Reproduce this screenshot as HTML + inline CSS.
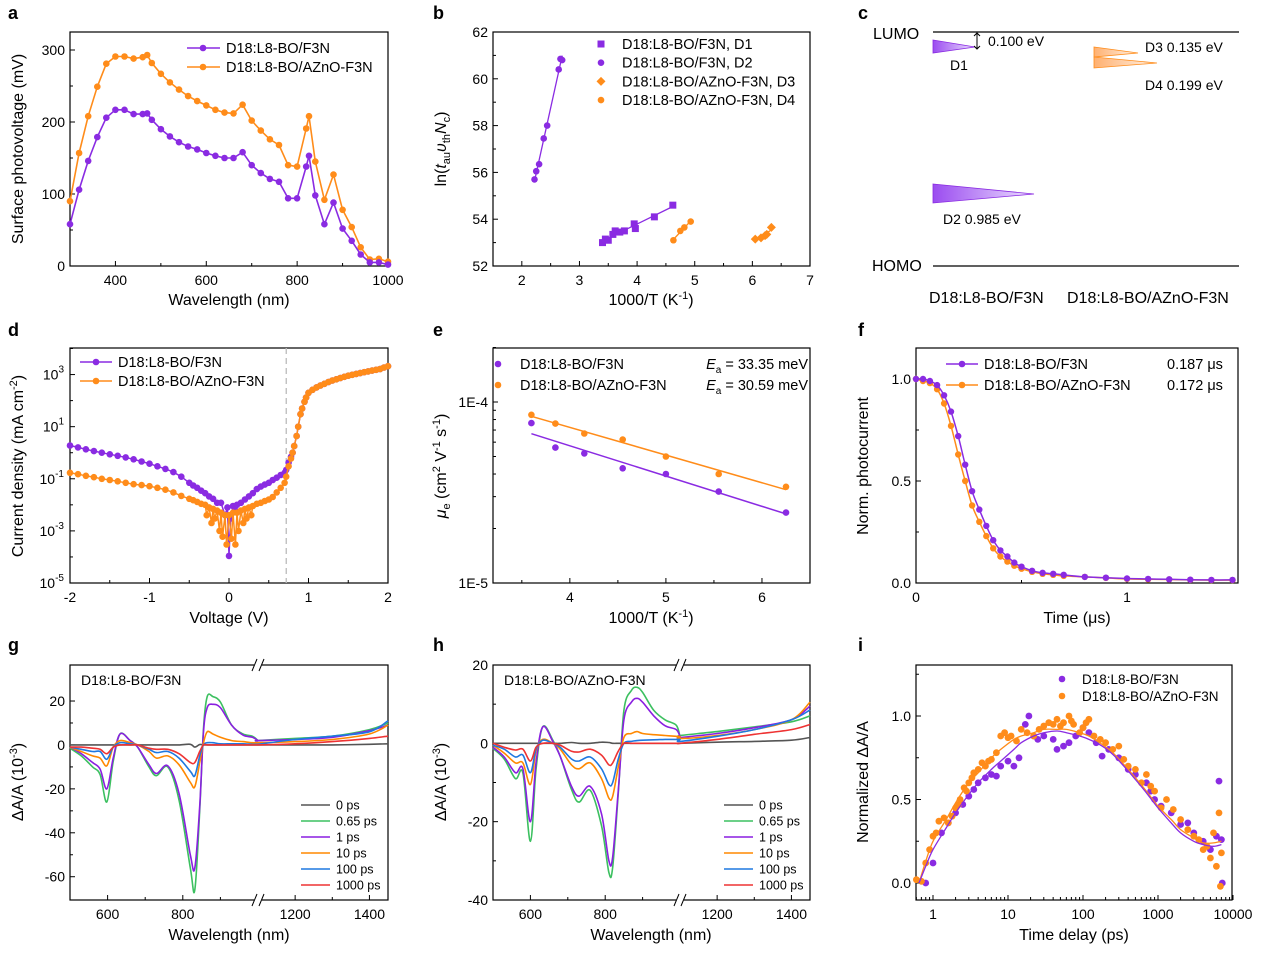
<!DOCTYPE html>
<html><head><meta charset="utf-8">
<style>
html,body{margin:0;padding:0;background:#fff;}
svg{display:block;font-family:"Liberation Sans",Arial,sans-serif;}
</style></head>
<body>
<svg id="fig" xmlns="http://www.w3.org/2000/svg" width="1268" height="953" viewBox="0 0 1268 953">
<defs>
<linearGradient id="gp" x1="0" x2="1" y1="0" y2="0"><stop offset="0" stop-color="#9b4cf0"/><stop offset="1" stop-color="#ece0ff"/></linearGradient>
<linearGradient id="go" x1="0" x2="1" y1="0" y2="0"><stop offset="0" stop-color="#ffb070"/><stop offset="1" stop-color="#fff3e8"/></linearGradient>
</defs>
<g font-size="18" font-weight="bold" fill="#000">
<text x="8" y="19">a</text>
<text x="433" y="19">b</text>
<text x="858" y="19">c</text>
<text x="8" y="336">d</text>
<text x="433" y="336">e</text>
<text x="858" y="336">f</text>
<text x="8" y="651">g</text>
<text x="433" y="651">h</text>
<text x="858" y="651">i</text>
</g>
<g font-size="16" fill="#000" text-anchor="middle">
<text x="229" y="305">Wavelength (nm)</text>
<text transform="translate(23,149) rotate(-90)">Surface photovoltage (mV)</text>
<text x="651" y="305">1000/T (K<tspan font-size="11" dy="-6">-1</tspan><tspan dy="6">)</tspan></text>
<text transform="translate(446,149) rotate(-90)">ln(<tspan font-style="italic">t</tspan><tspan font-size="11" dy="4">au</tspan><tspan dy="-4" font-style="italic">υ</tspan><tspan font-size="11" dy="4">th</tspan><tspan dy="-4" font-style="italic">N</tspan><tspan font-size="11" dy="4">c</tspan><tspan dy="-4">)</tspan></text>
<text x="229" y="623">Voltage (V)</text>
<text transform="translate(23,466) rotate(-90)">Current density (mA cm<tspan font-size="11" dy="-6">-2</tspan><tspan dy="6">)</tspan></text>
<text x="651" y="623">1000/T (K<tspan font-size="11" dy="-6">-1</tspan><tspan dy="6">)</tspan></text>
<text transform="translate(446,466) rotate(-90)"><tspan font-style="italic">μ</tspan><tspan font-size="11" dy="4">e</tspan><tspan dy="-4"> (cm</tspan><tspan font-size="11" dy="-6">2</tspan><tspan dy="6"> V</tspan><tspan font-size="11" dy="-6">-1</tspan><tspan dy="6"> s</tspan><tspan font-size="11" dy="-6">-1</tspan><tspan dy="6">)</tspan></text>
<text x="1077" y="623">Time (μs)</text>
<text transform="translate(868,466) rotate(-90)">Norm. photocurrent</text>
<text x="229" y="940">Wavelength (nm)</text>
<text transform="translate(23,782) rotate(-90)">ΔA/A (10<tspan font-size="11" dy="-6">-3</tspan><tspan dy="6">)</tspan></text>
<text x="651" y="940">Wavelength (nm)</text>
<text transform="translate(446,782) rotate(-90)">ΔA/A (10<tspan font-size="11" dy="-6">-3</tspan><tspan dy="6">)</tspan></text>
<text x="1074" y="940">Time delay (ps)</text>
<text transform="translate(868,782) rotate(-90)">Normalized ΔA/A</text>
</g>
<g font-size="14" fill="#000">
<text x="873" y="39" font-size="16">LUMO</text>
<line x1="933" y1="32" x2="1239" y2="32" stroke="#000" stroke-width="1.3"/>
<text x="872" y="271" font-size="16">HOMO</text>
<line x1="933" y1="266" x2="1239" y2="266" stroke="#000" stroke-width="1.3"/>
<path d="M933,40 L975,47 L933,53 Z" fill="url(#gp)" stroke="#8a2be2" stroke-width="0.8"/>
<path d="M977,33 L977,49 M974,36 L977,33 L980,36 M974,46 L977,49 L980,46" stroke="#000" fill="none" stroke-width="1"/>
<text x="988" y="46">0.100 eV</text>
<text x="950" y="70">D1</text>
<path d="M1094,47 L1138,53 L1094,57 Z" fill="url(#go)" stroke="#ff8c1a" stroke-width="0.8"/>
<path d="M1094,57 L1157,63 L1094,68 Z" fill="url(#go)" stroke="#ff8c1a" stroke-width="0.8"/>
<text x="1145" y="52">D3 0.135 eV</text>
<text x="1145" y="90">D4 0.199 eV</text>
<path d="M933,184 L1034,194 L933,203 Z" fill="url(#gp)" stroke="#8a2be2" stroke-width="0.8"/>
<text x="943" y="224">D2 0.985 eV</text>
<text x="929" y="303" font-size="16">D18:L8-BO/F3N</text>
<text x="1067" y="303" font-size="16">D18:L8-BO/AZnO-F3N</text>
</g>
</svg>
<script>
// ---------- DATA ----------
const aWl = [300,320,340,360,380,400,420,440,460,470,480,500,520,540,560,580,600,620,640,660,680,700,720,740,760,780,800,820,826,840,860,880,900,920,940,960,980,1000];
const aF3N = [58,106,146,179,206,217,217,211,211,212,203,190,180,172,166,162,157,153,150,150,158,140,129,121,117,94,94,138,153,98,58,88,52,35,16,5,5,2];
const aAZnO = [90,157,208,249,281,291,291,288,290,293,282,267,255,245,236,229,223,217,213,212,224,202,188,176,168,140,138,191,208,145,92,127,78,54,26,9,10,6];
const aXTicks = [400,600,800,1000];
const aYTicks = [0,100,200,300];
const bD1x = [3.4,3.45,3.5,3.58,3.62,3.7,3.78,3.95,3.97,4.3,4.62];
const bD1y = [53.0,53.15,53.1,53.35,53.5,53.45,53.5,53.8,53.6,54.1,54.6];
const bD2x = [2.22,2.25,2.3,2.38,2.44,2.64,2.67,2.7];
const bD2y = [55.7,56.05,56.35,57.45,58.0,60.4,60.85,60.8];
const bD3x = [6.05,6.15,6.22,6.25,6.33];
const bD3y = [53.15,53.2,53.3,53.35,53.65];
const bD4x = [4.63,4.75,4.82,4.93];
const bD4y = [53.1,53.5,53.65,53.9];
const bXTicks = [2,3,4,5,6,7];
const bYTicks = [52,54,56,58,60,62];
const dVp = [-2,-1.9,-1.8,-1.7,-1.6,-1.5,-1.4,-1.3,-1.2,-1.1,-1,-0.9,-0.8,-0.7,-0.6,-0.5,-0.45,-0.4,-0.35,-0.3,-0.25,-0.2,-0.15,-0.1,-0.05,-0.02,0,0.02,0.05,0.08,0.1,0.15,0.2,0.25,0.3,0.35,0.4,0.45,0.5,0.55,0.6,0.65,0.7,0.72,0.75,0.78,0.8,0.82,0.85,0.87,0.9,0.92,0.95,0.97,1.0,1.05,1.1,1.15,1.2,1.25,1.3,1.35,1.4,1.45,1.5,1.55,1.6,1.65,1.7,1.75,1.8,1.85,1.9,1.95,2];
const dJp = [1.9,1.6,1.35,1.15,1.0,0.87,0.76,0.66,0.56,0.46,0.38,0.3,0.24,0.18,0.12,0.07,0.055,0.045,0.035,0.028,0.021,0.017,0.012,0.012,0.004,0.008,1.1e-4,0.003,0.009,0.006,0.01,0.012,0.016,0.021,0.028,0.04,0.05,0.06,0.07,0.09,0.11,0.14,0.17,0.22,0.42,0.7,1,1.8,4.4,10,30,50,90,130,200,260,320,380,440,520,590,660,740,820,900,980,1060,1140,1230,1320,1420,1520,1640,1860,2100];
const dVo = [-2,-1.9,-1.8,-1.7,-1.6,-1.5,-1.4,-1.3,-1.2,-1.1,-1,-0.9,-0.8,-0.7,-0.6,-0.5,-0.45,-0.4,-0.35,-0.3,-0.28,-0.25,-0.22,-0.2,-0.18,-0.15,-0.12,-0.1,-0.08,-0.05,-0.03,0,0.03,0.05,0.08,0.1,0.12,0.15,0.18,0.2,0.22,0.25,0.28,0.3,0.35,0.4,0.45,0.5,0.55,0.6,0.65,0.7,0.72,0.75,0.78,0.8,0.82,0.85,0.87,0.9,0.92,0.95,0.97,1.0,1.05,1.1,1.15,1.2,1.25,1.3,1.35,1.4,1.45,1.5,1.55,1.6,1.65,1.7,1.75,1.8,1.85,1.9,1.95,2];
const dJo = [0.17,0.15,0.13,0.115,0.1,0.09,0.08,0.07,0.062,0.057,0.052,0.045,0.038,0.03,0.022,0.017,0.015,0.013,0.011,0.01,0.004,0.008,0.002,0.007,0.003,0.006,0.001,0.005,6e-4,0.004,3e-4,0.004,5e-4,0.005,3e-4,0.005,0.001,0.006,0.002,0.007,0.003,0.008,0.004,0.009,0.011,0.012,0.014,0.016,0.02,0.03,0.045,0.07,0.12,0.3,0.6,1,1.8,4.4,10,30,50,90,130,200,260,320,380,440,520,590,660,740,820,900,980,1060,1140,1230,1320,1420,1520,1640,1860,2100];
const dXTicks = [-2,-1,0,1,2];
const dYExp = [3,1,-1,-3,-5];
const eX = [3.6,3.85,4.15,4.55,5.0,5.55,6.25];
const eF3N = [7.65e-5,5.6e-5,5.2e-5,4.3e-5,4.0e-5,3.2e-5,2.45e-5];
const eAZnO = [8.5e-5,7.6e-5,6.7e-5,6.2e-5,5.0e-5,4.0e-5,3.4e-5];
const eXTicks = [4,5,6];
const fT = [0,0.033,0.066,0.1,0.133,0.166,0.2,0.233,0.266,0.3,0.333,0.366,0.4,0.433,0.466,0.5,0.55,0.6,0.65,0.7,0.8,0.9,1.0,1.1,1.2,1.3,1.4,1.5];
const fF3N = [1.0,1.0,0.99,0.97,0.92,0.84,0.72,0.58,0.45,0.36,0.28,0.21,0.16,0.13,0.1,0.08,0.06,0.05,0.045,0.04,0.03,0.026,0.022,0.02,0.018,0.016,0.015,0.015];
const fAZnO = [1.0,0.99,0.98,0.95,0.88,0.77,0.63,0.5,0.38,0.3,0.23,0.17,0.13,0.105,0.085,0.07,0.055,0.045,0.04,0.035,0.03,0.025,0.02,0.018,0.017,0.015,0.014,0.014];
const fXTicks = [0,1];
const fYTicks = [0,0.5,1.0];
const gWl = [500,530,560,580,598,615,633,660,680,710,730,760,790,820,832,845,855,865,880,900,930,960,985,1000,1100,1200,1300,1400,1450];
const g0 = [0,0,0,0,0,0,0,0,0,0,0,0,0,0.3,-1,0.2,0,0,0,0,0,0,0,0,0,0,0,0.3,0.5];
const g065 = [-1.5,-5,-10,-13.5,-26,-7.5,5,2,-1,-10,-14,-10,-25,-56,-66,-30,7.5,22,22,19.5,9,5,4,2,2,3,4,7,10];
const g1 = [-1,-4,-8,-11,-20,-6,5,2,-1,-9,-13,-9.5,-22,-50,-56,-28,6,17,18.5,17,9,4.5,3.5,2,2,2.5,3.5,6.5,9];
const g10 = [-1,-3,-5,-6,-9.5,-1,2,1,0,-3,-6,-5,-9,-17,-19,-8,1,6,5,3.5,2,1.5,1,1,1,1.5,2.5,5,9];
const g100 = [-1,-2,-3,-3,-6.5,-1,1,0.5,0,-2,-3.5,-3,-6,-12,-14,-5,0,1,1,0.5,0.5,0.5,0.3,0.3,0.3,2.5,4,6,11];
const g1000 = [-1,-1,-1.5,-2,-4,-1,0,0,0,-1.5,-2,-2,-4,-8,-8,-3,0,0,0,0,0,0,0,0,0,0.5,1.5,3,4];
const gXTicks = [600,800,1200,1400];
const gYTicks = [20,0,-20,-40,-60];
const hWl = [500,530,560,580,600,615,633,660,680,710,730,760,790,810,820,835,850,870,885,900,930,960,990,1000,1100,1200,1300,1400,1450];
const h0 = [0,0,0,0,0,0,0,0,0,0.2,0,0,0.3,0.2,0,0,0,0,0,0,0,0,0,0,0,0.3,0.5,0.8,1.5];
const h065 = [-1.3,-4,-9,-7.6,-25,-6.7,4.2,0.8,-3.4,-11.8,-15,-12,-21,-33,-31.6,-12.7,8.4,13.5,14.3,13,8.4,6,4.6,1.7,2,3,4.2,5.5,7];
const h1 = [-1,-3.5,-7.5,-6.5,-20,-5,4.2,0.5,-3.4,-11,-13.5,-11,-18,-30,-29,-12,6,10.5,11.5,10.5,7,4.5,3.5,1.7,1.5,2.5,4,6,9.5];
const h10 = [-0.5,-2.5,-5,-5,-10.5,-2,1,0,-1.5,-5.5,-6.5,-5,-9,-14,-13.5,-6,1.5,2.5,3,2.5,2.2,2,1.8,1.7,1.2,2,3.5,6,10.5];
const h100 = [-0.5,-1.5,-3.5,-3,-7.5,-1.5,0.8,0,-1,-4,-4.5,-3.5,-6.5,-10.5,-10,-4,0,0.5,0.7,0.8,0.9,1,1,1,0.5,1.8,3.5,6,8.5];
const h1000 = [0,-1,-1.7,-1.5,-4.5,-1,0,0,-0.5,-2,-2.2,-1.5,-3,-5.5,-5,-2,0,0,0,0,0,0,0,0,0,1,2.3,3.5,4.8];
const hXTicks = [600,800,1200,1400];
const hYTicks = [20,0,-20,-40];
const taLabels = ['0 ps','0.65 ps','1 ps','10 ps','100 ps','1000 ps'];
const iTo = [0.6,0.7,0.8,0.9,1.0,1.1,1.2,1.4,1.6,1.8,2.0,2.2,2.3,2.6,2.8,3,3.3,3.5,4,4.5,5,5.5,6,7,8,9,10,11,13,15,18,22,26,30,35,40,45,50,55,65,70,75,90,100,110,120,140,170,200,250,300,350,400,500,600,700,800,900,1100,1300,1600,2000,2500,3000,3500,4000,4500,5000,5500,6000,6500,6800,7000];
const iVo = [0.02,0.01,0.12,0.2,0.28,0.3,0.37,0.39,0.36,0.4,0.45,0.47,0.5,0.57,0.55,0.6,0.63,0.66,0.68,0.72,0.7,0.73,0.74,0.78,0.88,0.9,0.87,0.88,0.85,0.92,0.9,0.88,0.92,0.94,0.96,0.95,0.98,0.94,0.96,1.0,0.97,0.95,0.9,0.93,0.96,0.98,0.88,0.86,0.84,0.8,0.82,0.74,0.7,0.68,0.6,0.65,0.58,0.55,0.45,0.5,0.44,0.38,0.32,0.28,0.26,0.2,0.22,0.15,0.3,0.1,0.42,-0.02,0.18];
const iTp = [0.8,1.0,1.3,1.6,2,2.5,3,3.5,4,5,6,7,8,10,12,14,17,19,22,25,30,40,45,55,65,80,100,120,150,180,220,300,400,500,700,800,900,1100,1500,2000,2500,3000,4000,5000,6000,6500,7000,7200];
const iVp = [0.0,0.12,0.3,0.36,0.42,0.47,0.52,0.56,0.6,0.63,0.65,0.64,0.7,0.73,0.7,0.75,0.95,1.0,0.88,0.86,0.88,0.86,0.8,0.82,0.84,0.88,0.93,0.9,0.84,0.76,0.8,0.75,0.68,0.65,0.6,0.55,0.5,0.46,0.42,0.35,0.36,0.3,0.25,0.2,0.28,0.61,0.26,0.0];
const iFitT = [0.65,0.8,1,1.5,2,3,4,6,8,12,15,22,30,45,60,90,120,180,250,350,500,700,1000,1500,2000,3000,4000,5500,7000];
const iFitO = [0,0.13,0.25,0.38,0.48,0.6,0.66,0.75,0.8,0.86,0.88,0.9,0.92,0.92,0.92,0.9,0.88,0.83,0.78,0.71,0.63,0.55,0.46,0.38,0.32,0.27,0.24,0.24,0.25];
const iFitP = [0,0.1,0.2,0.33,0.42,0.53,0.6,0.68,0.73,0.8,0.84,0.88,0.9,0.91,0.9,0.88,0.86,0.82,0.77,0.7,0.62,0.54,0.45,0.36,0.3,0.25,0.23,0.22,0.23];
const iXTicks = [1,10,100,1000,10000];
const iYTicks = [0,0.5,1.0];

// ---------- HELPERS ----------
const NS='http://www.w3.org/2000/svg';
const svg=document.getElementById('fig');
const PUR='#8a2be2', ORA='#ff8c1a';
const TA_COL=['#555555','#3cc060','#8a1fe0','#ff8800','#1f78e0','#ee3333'];
function mk(tag,attrs,name,parent){
  const e=document.createElementNS(NS,tag);
  for(const k in attrs) e.setAttribute(k,attrs[k]);
  
  
  (parent||svg).appendChild(e);
  return e;
}
function txt(x,y,s,name,o){o=o||{};const t=mk('text',Object.assign({x:x,y:y,'font-size':14,fill:'#000'},o),name);t.textContent=s;return t;}
function lin(d0,d1,p0,p1){return v=>p0+(v-d0)/(d1-d0)*(p1-p0);}
function lg(d0,d1,p0,p1){return v=>p0+(Math.log10(v)-Math.log10(d0))/(Math.log10(d1)-Math.log10(d0))*(p1-p0);}
function frame(b,name){mk('rect',{x:b.l,y:b.t,width:b.r-b.l,height:b.b-b.t,fill:'none',stroke:'#000','stroke-width':1.2},name);}
function xt(b,v,sx,label,name,minor){const x=sx(v);mk('line',{x1:x,y1:b.b,x2:x,y2:b.b-(minor?3:5),stroke:'#000','stroke-width':1},name+'-tick');if(label!==null&&label!==undefined)txt(x,b.b+19,label,name+'-label',{'text-anchor':'middle'});}
function yt(b,v,sy,label,name,minor){const y=sy(v);mk('line',{x1:b.l,y1:y,x2:b.l+(minor?3:5),y2:y,stroke:'#000','stroke-width':1},name+'-tick');if(label!==null&&label!==undefined)txt(b.l-5,y+5,label,name+'-label',{'text-anchor':'end'});}
function path(xs,ys,sx,sy,col,w,name,extra,smooth){
  const P=xs.map((x,i)=>[sx(x),sy(ys[i])]);let d='M'+P[0][0].toFixed(1)+','+P[0][1].toFixed(1);
  for(let i=1;i<P.length;i++){
    if(smooth){const p0=P[Math.max(0,i-2)],p1=P[i-1],p2=P[i],p3=P[Math.min(P.length-1,i+1)];
      const c1=[p1[0]+(p2[0]-p0[0])/6,p1[1]+(p2[1]-p0[1])/6],c2=[p2[0]-(p3[0]-p1[0])/6,p2[1]-(p3[1]-p1[1])/6];
      d+='C'+c1[0].toFixed(1)+','+c1[1].toFixed(1)+' '+c2[0].toFixed(1)+','+c2[1].toFixed(1)+' '+p2[0].toFixed(1)+','+p2[1].toFixed(1);}
    else d+='L'+P[i][0].toFixed(1)+','+P[i][1].toFixed(1);}
  return mk('path',Object.assign({d:d,fill:'none',stroke:col,'stroke-width':w,'stroke-linejoin':'round'},extra||{}),name);}
function dots(xs,ys,sx,sy,col,r,name){const g=mk('g',{},name);for(let i=0;i<xs.length;i++){mk('circle',{cx:sx(xs[i]).toFixed(1),cy:sy(ys[i]).toFixed(1),r:r,fill:col},name+'-point',g);}return g;}
function marker(x,y,col,shape,name){
  if(shape==='sq') return mk('rect',{x:x-3.5,y:y-3.5,width:7,height:7,fill:col},name);
  if(shape==='di') return mk('path',{d:`M${x},${y-4.5}L${x+4.5},${y}L${x},${y+4.5}L${x-4.5},${y}Z`,fill:col},name);
  return mk('circle',{cx:x,cy:y,r:3.3,fill:col},name);
}

// ---------- PANEL A ----------
(function(){
  const b={l:70,r:388,t:32,b:266};
  const sx=lin(300,1000,b.l,b.r), sy=lin(0,325,b.b,b.t);
  frame(b,'a-plot-frame');
  aXTicks.forEach(v=>xt(b,v,sx,String(v),'a-x'));
  [300,500,700,900].forEach(v=>xt(b,v,sx,null,'a-x-minor',true));
  aYTicks.forEach(v=>yt(b,v,sy,String(v),'a-y'));
  [50,150,250].forEach(v=>yt(b,v,sy,null,'a-y-minor',true));
  path(aWl,aAZnO,sx,sy,ORA,1.6,'a-line-azno');
  dots(aWl,aAZnO,sx,sy,ORA,3.3,'a-markers-azno');
  path(aWl,aF3N,sx,sy,PUR,1.6,'a-line-f3n');
  dots(aWl,aF3N,sx,sy,PUR,3.3,'a-markers-f3n');
  mk('line',{x1:187,y1:48,x2:220,y2:48,stroke:PUR,'stroke-width':1.6},'a-legend-line-f3n');marker(203,48,PUR,'c','a-legend-marker-f3n');
  txt(226,53,'D18:L8-BO/F3N','a-legend-f3n',{'font-size':14.5});
  mk('line',{x1:187,y1:67,x2:220,y2:67,stroke:ORA,'stroke-width':1.6},'a-legend-line-azno');marker(203,67,ORA,'c','a-legend-marker-azno');
  txt(226,72,'D18:L8-BO/AZnO-F3N','a-legend-azno',{'font-size':14.5});
})();

// ---------- PANEL B ----------
(function(){
  const b={l:493,r:810,t:32,b:266};
  const sx=lin(1.5,7,b.l,b.r), sy=lin(52,62,b.b,b.t);
  frame(b,'b-plot-frame');
  bXTicks.forEach(v=>xt(b,v,sx,String(v),'b-x'));
  [2.5,3.5,4.5,5.5,6.5].forEach(v=>xt(b,v,sx,null,'b-x-minor',true));
  bYTicks.forEach(v=>yt(b,v,sy,String(v),'b-y'));
  [53,55,57,59,61].forEach(v=>yt(b,v,sy,null,'b-y-minor',true));
  function fit(xs,ys,col,name){const n=xs.length;let mx=0,my=0;xs.forEach((x,i)=>{mx+=x;my+=ys[i];});mx/=n;my/=n;let num=0,den=0;xs.forEach((x,i)=>{num+=(x-mx)*(ys[i]-my);den+=(x-mx)*(x-mx);});const k=num/den;const x0=Math.min(...xs),x1=Math.max(...xs);path([x0,x1],[my+k*(x0-mx),my+k*(x1-mx)],sx,sy,col,1.3,name);}
  fit(bD1x,bD1y,PUR,'b-fit-d1');fit(bD2x,bD2y,PUR,'b-fit-d2');fit(bD3x,bD3y,ORA,'b-fit-d3');fit(bD4x,bD4y,ORA,'b-fit-d4');
  bD1x.forEach((x,i)=>marker(sx(x),sy(bD1y[i]),PUR,'sq','b-point-d1'));
  bD2x.forEach((x,i)=>marker(sx(x),sy(bD2y[i]),PUR,'c','b-point-d2'));
  bD3x.forEach((x,i)=>marker(sx(x),sy(bD3y[i]),ORA,'di','b-point-d3'));
  bD4x.forEach((x,i)=>marker(sx(x),sy(bD4y[i]),ORA,'c','b-point-d4'));
  const L=[['D18:L8-BO/F3N, D1',PUR,'sq'],['D18:L8-BO/F3N, D2',PUR,'c'],['D18:L8-BO/AZnO-F3N, D3',ORA,'di'],['D18:L8-BO/AZnO-F3N, D4',ORA,'c']];
  L.forEach((e,i)=>{marker(601,44+i*18.7,e[1],e[2],'b-legend-marker');txt(622,49+i*18.7,e[0],'b-legend-entry',{'font-size':14.5});});
})();

// ---------- PANEL D ----------
(function(){
  const b={l:70,r:388,t:348,b:583};
  const sx=lin(-2,2,b.l,b.r), sy=lg(1e-5,1e4,b.b,b.t+0.5);
  frame(b,'d-plot-frame');
  dXTicks.forEach(v=>xt(b,v,sx,String(v),'d-x'));
  [-1.5,-0.5,0.5,1.5].forEach(v=>xt(b,v,sx,null,'d-x-minor',true));
  dYExp.forEach(e=>{const y=sy(Math.pow(10,e));mk('line',{x1:b.l,y1:y,x2:b.l+5,y2:y,stroke:'#000'},'d-y-tick');
    const t=txt(b.l-6,y+5,'10','d-y-label',{'text-anchor':'end'});const s=document.createElementNS(NS,'tspan');s.setAttribute('font-size','10');s.setAttribute('dy','-7');s.textContent=String(e);t.appendChild(s);});
  [4,2,0,-2,-4].forEach(e=>yt(b,Math.pow(10,e),sy,null,'d-y-minor',true));
  mk('line',{x1:sx(0.72),y1:b.t,x2:sx(0.72),y2:b.b,stroke:'#bbb','stroke-width':1.3,'stroke-dasharray':'6,4'},'d-vbi-dashed-line');
  path(dVp,dJp,sx,sy,PUR,1.5,'d-line-f3n');dots(dVp,dJp,sx,sy,PUR,3.3,'d-markers-f3n');
  path(dVo,dJo,sx,sy,ORA,1.5,'d-line-azno');dots(dVo,dJo,sx,sy,ORA,3.3,'d-markers-azno');
  mk('line',{x1:80,y1:362,x2:112,y2:362,stroke:PUR,'stroke-width':1.6},'d-legend-line-f3n');marker(96,362,PUR,'c','d-legend-marker-f3n');
  txt(118,367,'D18:L8-BO/F3N','d-legend-f3n',{'font-size':14.5});
  mk('line',{x1:80,y1:381,x2:112,y2:381,stroke:ORA,'stroke-width':1.6},'d-legend-line-azno');marker(96,381,ORA,'c','d-legend-marker-azno');
  txt(118,386,'D18:L8-BO/AZnO-F3N','d-legend-azno',{'font-size':14.5});
})();

// ---------- PANEL E ----------
(function(){
  const b={l:493,r:810,t:348,b:583};
  const sx=lin(3.2,6.5,b.l,b.r), sy=lg(1e-5,1e-4,b.b,402);
  frame(b,'e-plot-frame');
  eXTicks.forEach(v=>xt(b,v,sx,String(v),'e-x'));
  [3.5,4.5,5.5,6.5].forEach(v=>xt(b,v,sx,null,'e-x-minor',true));
  yt(b,1e-4,sy,'1E-4','e-y');yt(b,1e-5,sy,'1E-5','e-y');
  [2e-5,3e-5,4e-5,5e-5,6e-5,7e-5,8e-5,9e-5,2e-4].forEach(v=>yt(b,v,sy,null,'e-y-minor',true));
  function fit(ys,col,name){const n=eX.length;let mx=0,my=0;const ly=ys.map(v=>Math.log10(v));eX.forEach((x,i)=>{mx+=x;my+=ly[i];});mx/=n;my/=n;let nu=0,de=0;eX.forEach((x,i)=>{nu+=(x-mx)*(ly[i]-my);de+=(x-mx)*(x-mx);});const k=nu/de;const x0=eX[0],x1=eX[n-1];path([x0,x1],[Math.pow(10,my+k*(x0-mx)),Math.pow(10,my+k*(x1-mx))],sx,sy,col,1.5,name);}
  fit(eF3N,PUR,'e-fit-f3n');fit(eAZnO,ORA,'e-fit-azno');
  dots(eX,eF3N,sx,sy,PUR,3.3,'e-points-f3n');dots(eX,eAZnO,sx,sy,ORA,3.3,'e-points-azno');
  marker(498,364,PUR,'c','e-legend-marker-f3n');txt(520,369,'D18:L8-BO/F3N','e-legend-f3n',{'font-size':14.5});
  marker(498,385,ORA,'c','e-legend-marker-azno');txt(520,390,'D18:L8-BO/AZnO-F3N','e-legend-azno',{'font-size':14.5});
  const t1=txt(808,369,'','e-ea-f3n',{'text-anchor':'end','font-size':14.5});t1.innerHTML='<tspan font-style="italic">E</tspan><tspan font-size="10" dy="4">a</tspan><tspan dy="-4"> = 33.35 meV</tspan>';
  const t2=txt(808,390,'','e-ea-azno',{'text-anchor':'end','font-size':14.5});t2.innerHTML='<tspan font-style="italic">E</tspan><tspan font-size="10" dy="4">a</tspan><tspan dy="-4"> = 30.59 meV</tspan>';
})();

// ---------- PANEL F ----------
(function(){
  const b={l:916,r:1238,t:348,b:583};
  const sx=lin(0,1.526,b.l,b.r), sy=lin(0,1,b.b,379);
  frame(b,'f-plot-frame');
  fXTicks.forEach(v=>xt(b,v,sx,String(v),'f-x'));
  [0.5,1.5].forEach(v=>xt(b,v,sx,null,'f-x-minor',true));
  fYTicks.forEach(v=>yt(b,v,sy,v.toFixed(1),'f-y'));
  [0.25,0.75].forEach(v=>yt(b,v,sy,null,'f-y-minor',true));
  path(fT,fAZnO,sx,sy,ORA,1.5,'f-line-azno',null,true);dots(fT,fAZnO,sx,sy,ORA,3.2,'f-markers-azno');
  path(fT,fF3N,sx,sy,PUR,1.5,'f-line-f3n',null,true);dots(fT,fF3N,sx,sy,PUR,3.2,'f-markers-f3n');
  mk('line',{x1:946,y1:364,x2:978,y2:364,stroke:PUR,'stroke-width':1.6},'f-legend-line-f3n');marker(962,364,PUR,'c','f-legend-marker-f3n');
  txt(984,369,'D18:L8-BO/F3N','f-legend-f3n',{'font-size':14.5});txt(1167,369,'0.187 μs','f-lifetime-f3n',{'font-size':14.5});
  mk('line',{x1:946,y1:385,x2:978,y2:385,stroke:ORA,'stroke-width':1.6},'f-legend-line-azno');marker(962,385,ORA,'c','f-legend-marker-azno');
  txt(984,390,'D18:L8-BO/AZnO-F3N','f-legend-azno',{'font-size':14.5});txt(1167,390,'0.172 μs','f-lifetime-azno',{'font-size':14.5});
})();

// ---------- PANELS G / H ----------
function taPanel(p,b,split,wl,series,yMin,yMax,yTicks,title,legX){
  const sy=lin(yMin,yMax,b.b,b.t);
  const sx=v=> v<=1000 ? b.l+(v-500)/500*(split-b.l) : split+(v-1100)/350*(b.r-split);
  frame(b,p+'-plot-frame');
  yTicks.forEach(v=>yt(b,v,sy,String(v),p+'-y'));
  yTicks.slice(0,-1).forEach(v=>yt(b,v-10,sy,null,p+'-y-minor',true));
  [600,800,1200,1400].forEach(v=>xt(b,v,sx,String(v),p+'-x'));
  [700,900,1300].forEach(v=>xt(b,v,sx,null,p+'-x-minor',true));
  series.forEach((s,i)=>path(wl,s,sx,sy,TA_COL[i],1.6,p+'-trace-'+taLabels[i].replace(/[ .]/g,''),null,true));
  [b.t,b.b].forEach(y=>{mk('rect',{x:split-4,y:y-2,width:8,height:4,fill:'#fff'},p+'-axis-break-gap');
    mk('path',{d:`M${split-6},${y+6}L${split-1},${y-6}M${split+1},${y+6}L${split+6},${y-6}`,stroke:'#000','stroke-width':1,fill:'none'},p+'-axis-break-mark');});
  txt(b.l+11,b.t+20,title,p+'-sample-label',{'font-size':14});
  taLabels.forEach((l,i)=>{const y=805+i*16;mk('line',{x1:legX,y1:y,x2:legX+29,y2:y,stroke:TA_COL[i],'stroke-width':1.6},p+'-legend-line');txt(legX+35,y+4.5,l,p+'-legend-entry',{'font-size':12.5});});
}
taPanel('g',{l:70,r:388,t:665,b:900},258,gWl,[g0,g065,g1,g10,g100,g1000],-70.6,36.4,gYTicks,'D18:L8-BO/F3N',301);
taPanel('h',{l:493,r:810,t:665,b:900},680,hWl,[h0,h065,h1,h10,h100,h1000],-40,20,hYTicks,'D18:L8-BO/AZnO-F3N',724);

// ---------- PANEL I ----------
(function(){
  const b={l:916,r:1232,t:665,b:900};
  const sx=lg(1,10000,933,1233), sy=lin(0,1,883,716);
  frame(b,'i-plot-frame');
  iXTicks.forEach(v=>xt(b,v,sx,String(v),'i-x'));
  [0.6,0.7,0.8,0.9].concat([2,3,4,5,6,7,8,9].flatMap(m=>[m,m*10,m*100,m*1000])).forEach(v=>{if(sx(v)>b.l&&sx(v)<b.r)xt(b,v,sx,null,'i-x-minor',true);});
  iYTicks.forEach(v=>yt(b,v,sy,v.toFixed(1),'i-y'));
  [0.25,0.75,1.25].forEach(v=>yt(b,v,sy,null,'i-y-minor',true));
  dots(iTp,iVp,sx,sy,PUR,3.4,'i-points-f3n');
  dots(iTo,iVo,sx,sy,ORA,3.4,'i-points-azno');
  path(iFitT,iFitO,sx,sy,ORA,1.3,'i-fit-azno',null,true);
  path(iFitT,iFitP,sx,sy,PUR,1.3,'i-fit-f3n',null,true);
  marker(1062,679,PUR,'c','i-legend-marker-f3n');txt(1082,684,'D18:L8-BO/F3N','i-legend-f3n',{'font-size':13.5});
  marker(1062,696,ORA,'c','i-legend-marker-azno');txt(1082,701,'D18:L8-BO/AZnO-F3N','i-legend-azno',{'font-size':13.5});
})();
</script>
</body></html>
